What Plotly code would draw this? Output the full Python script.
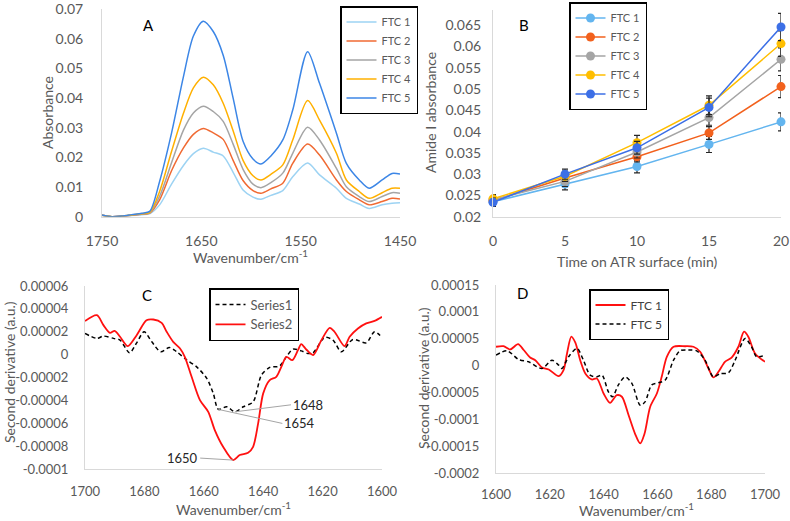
import plotly.graph_objects as go

# ---------------- Panel A data ----------------
wn_A = [1750, 1740, 1730, 1720, 1710, 1702, 1692, 1680, 1668, 1658, 1648, 1638, 1628, 1618, 1608,
        1598, 1590, 1580, 1568, 1558, 1543, 1531, 1514, 1504, 1491, 1481, 1468, 1458, 1450]
A_ftc1 = [0.0004, 0.0000, 0.0002, 0.0004, 0.0007, 0.0010, 0.0040, 0.0110, 0.0173, 0.0213, 0.0231, 0.0218,
          0.0205, 0.0150, 0.0090, 0.0066, 0.0059, 0.0072, 0.0088, 0.0135, 0.0181, 0.0141, 0.0096, 0.0062,
          0.0043, 0.0028, 0.0040, 0.0045, 0.0047]
A_ftc2 = [0.0005, 0.0000, 0.0002, 0.0005, 0.0008, 0.0012, 0.0057, 0.0155, 0.0232, 0.0278, 0.0298, 0.0283,
          0.0261, 0.0190, 0.0122, 0.0088, 0.0079, 0.0094, 0.0113, 0.0180, 0.0245, 0.0208, 0.0124, 0.0085,
          0.0057, 0.0040, 0.0051, 0.0062, 0.0060]
A_ftc3 = [0.0005, 0.0000, 0.0002, 0.0005, 0.0009, 0.0013, 0.0069, 0.0182, 0.0292, 0.0350, 0.0373, 0.0355,
          0.0322, 0.0245, 0.0160, 0.0110, 0.0098, 0.0115, 0.0147, 0.0214, 0.0302, 0.0259, 0.0163, 0.0101,
          0.0068, 0.0051, 0.0068, 0.0081, 0.0079]
A_ftc4 = [0.0005, 0.0000, 0.0002, 0.0006, 0.0010, 0.0014, 0.0085, 0.0220, 0.0349, 0.0435, 0.0471, 0.0445,
          0.0383, 0.0290, 0.0190, 0.0138, 0.0124, 0.0143, 0.0175, 0.0259, 0.0392, 0.0326, 0.0214, 0.0124,
          0.0085, 0.0062, 0.0081, 0.0096, 0.0096]
A_ftc5 = [0.0006, 0.0000, 0.0002, 0.0007, 0.0012, 0.0018, 0.0119, 0.0282, 0.0473, 0.0610, 0.0660, 0.0625,
          0.0545, 0.0400, 0.0255, 0.0195, 0.0178, 0.0205, 0.0259, 0.0360, 0.0557, 0.0450, 0.0282, 0.0180,
          0.0124, 0.0096, 0.0124, 0.0146, 0.0144]
A_xticks = [1750, 1650, 1550, 1450]
A_yticks = [0, 0.01, 0.02, 0.03, 0.04, 0.05, 0.06, 0.07]

# ---------------- Panel B data ----------------
time_B = [0, 5, 10, 15, 20]
B_ftc1 = [0.0235, 0.0277, 0.0318, 0.0370, 0.0423]
B_ftc2 = [0.0238, 0.0291, 0.0341, 0.0397, 0.0506]
B_ftc3 = [0.0240, 0.0283, 0.0352, 0.0433, 0.0570]
B_ftc4 = [0.0242, 0.0295, 0.0374, 0.0462, 0.0607]
B_ftc5 = [0.0234, 0.0300, 0.0362, 0.0457, 0.0646]
B_err1 = [0.0010, 0.0014, 0.0015, 0.0019, 0.0021]
B_err2 = [0.0010, 0.0012, 0.0012, 0.0015, 0.0026]
B_err3 = [0.0010, 0.0012, 0.0014, 0.0018, 0.0027]
B_err4 = [0.0010, 0.0012, 0.0017, 0.0022, 0.0030]
B_err5 = [0.0010, 0.0012, 0.0015, 0.0022, 0.0032]
B_yticks = [0.02, 0.025, 0.03, 0.035, 0.04, 0.045, 0.05, 0.055, 0.06, 0.065]
B_yticktext = ["0.02", "0.025", "0.03", "0.035", "0.04", "0.045", "0.05", "0.055", "0.06", "0.065"]

# ---------------- Panel C data ----------------
wn_C2 = [1700, 1696, 1693.8, 1691.6, 1690, 1688.2, 1685.6, 1682.6, 1679.3, 1677, 1674.2, 1672.5, 1670.3,
         1668, 1666.4, 1664.1, 1661.3, 1658.5, 1656.3, 1653.5, 1650.1, 1647.9, 1645.1, 1643.4, 1641.7,
         1640, 1637.8, 1635.6, 1633.9, 1632.2, 1630.2, 1628.3, 1627.2, 1625.5, 1623.2, 1620.4, 1617.6,
         1616, 1612.6, 1610.9, 1608.1, 1605.3, 1602.5, 1600]
C_series2 = [2.93e-5, 3.45e-5, 2.58e-5, 1.90e-5, 2.08e-5, 1.56e-5, 0.74e-5, 1.70e-5, 3.00e-5, 3.07e-5,
             2.78e-5, 2.00e-5, 1.12e-5, 0.54e-5, -0.19e-5, -1.94e-5, -3.98e-5, -5.00e-5, -6.60e-5, -8.06e-5,
             -9.22e-5, -8.78e-5, -8.58e-5, -8.06e-5, -6.01e-5, -3.39e-5, -2.23e-5, -1.94e-5, -1.07e-5,
             -0.19e-5, -0.48e-5, 0.39e-5, 0.92e-5, 0.45e-5, -0.04e-5, 1.27e-5, 2.34e-5, 2.00e-5, 0.74e-5,
             1.56e-5, 2.29e-5, 2.73e-5, 2.95e-5, 3.30e-5]
wn_C1 = [1700, 1696, 1693.8, 1690.4, 1688.2, 1685, 1682.6, 1680.1, 1677.5, 1674.5, 1671.6, 1669.1, 1665.7,
         1662.4, 1659, 1656.8, 1655.1, 1652.3, 1649.5, 1646.7, 1643.4, 1640.6, 1637.8, 1634.5, 1632.2, 1630,
         1627.2, 1625, 1623.2, 1619.3, 1616.5, 1613.7, 1609.8, 1605.3, 1602.5, 1600]
C_series1 = [1.85e-5, 1.42e-5, 1.62e-5, 1.42e-5, 1.27e-5, 0.16e-5, 1.03e-5, 2.00e-5, 1.12e-5, 0.25e-5,
             0.63e-5, 0.25e-5, -0.48e-5, -1.07e-5, -2.08e-5, -3.39e-5, -4.79e-5, -4.56e-5, -5.00e-5, -4.56e-5,
             -4.13e-5, -1.79e-5, -1.12e-5, -1.00e-5, -0.19e-5, 0.48e-5, 0.33e-5, 0.10e-5, 0.16e-5, 1.50e-5,
             1.27e-5, 0.25e-5, 1.33e-5, 1.03e-5, 2.00e-5, 1.50e-5]
C_yticks = [-0.0001, -0.00008, -0.00006, -0.00004, -0.00002, 0, 0.00002, 0.00004, 0.00006]
C_yticktext = ["-0.0001", "-0.00008", "-0.00006", "-0.00004", "-0.00002", "0", "0.00002", "0.00004", "0.00006"]
C_xticks = [1700, 1680, 1660, 1640, 1620, 1600]

# ---------------- Panel D data ----------------
wn_D1 = [1600, 1602.8, 1605.3, 1608.2, 1610.3, 1612.7, 1614.6, 1617.1, 1619.6, 1623.3, 1625.1, 1626.4, 1628,
         1629.5, 1631.3, 1633.2, 1635.6, 1637.5, 1640, 1642.4, 1644.9, 1646.8, 1649.3, 1651.7, 1653.6, 1655.2,
         1657.3, 1659.8, 1661.6, 1663.5, 1666, 1670.3, 1673.4, 1675.9, 1679, 1680.8, 1682.7, 1685.1, 1687.6,
         1690.1, 1692.2, 1693.8, 1696.3, 1700]
D_ftc1 = [3.5e-5, 3.6e-5, 3.0e-5, 4.0e-5, 2.9e-5, 1.5e-5, 1.0e-5, -0.35e-5, -0.73e-5, -1.97e-5, -0.85e-5, 2.26e-5,
          5.37e-5, 4.25e-5, 1.0e-5, -1.47e-5, -2.59e-5, -2.4e-5, -5.2e-5, -6.95e-5, -5.52e-5, -5.8e-5, -9.26e-5,
          -12.7e-5, -14.5e-5, -12.7e-5, -7.7e-5, -5.2e-5, -2.1e-5, 1.6e-5, 3.5e-5, 3.6e-5, 3.5e-5, 2.57e-5,
          -0.54e-5, -2.2e-5, -1.16e-5, 0.7e-5, 1.5e-5, 3.5e-5, 6.3e-5, 5.37e-5, 2.26e-5, 0.7e-5]
wn_D5 = [1600, 1604.1, 1608.4, 1612.1, 1617.1, 1620.8, 1623.3, 1624.5, 1627, 1630.1, 1632.5, 1635, 1637.5,
         1639.4, 1641.8, 1643.3, 1645.5, 1648, 1650.5, 1653.6, 1655.4, 1657.9, 1660.4, 1662.9, 1666, 1668.4,
         1671.5, 1674.6, 1677.7, 1680.8, 1683.3, 1686.4, 1688.9, 1692.6, 1695, 1696.9, 1700]
D_ftc5 = [1.95e-5, 2.75e-5, 1.14e-5, 0.7e-5, -0.54e-5, 1.0e-5, 0.08e-5, -0.54e-5, 1.64e-5, 3.2e-5, 1.0e-5,
          -1.78e-5, -2.1e-5, -1.78e-5, -4.9e-5, -5.8e-5, -3.6e-5, -2.1e-5, -3.3e-5, -7.4e-5, -6.76e-5, -3.6e-5,
          -3.2e-5, -2.7e-5, 1.0e-5, 2.75e-5, 2.9e-5, 2.75e-5, 1.0e-5, -2.1e-5, -1.5e-5, -1.35e-5, 1.0e-5,
          5.06e-5, 3.5e-5, 1.64e-5, 1.95e-5]
D_yticks = [-0.0002, -0.00015, -0.0001, -0.00005, 0, 0.00005, 0.0001, 0.00015]
D_yticktext = ["-0.0002", "-0.00015", "-0.0001", "-0.00005", "0", "0.00005", "0.0001", "0.00015"]
D_xticks = [1600, 1620, 1640, 1660, 1680, 1700]

FONT = "Lato"
GRAY = "#595959"
AXC = "#D9D9D9"
W, H = 790, 521


def px_x(p):
    return p / W


def px_y(p):
    return 1 - p / H


fig = go.Figure()

# Panel A
colA = ["#9DD3F3", "#F06A33", "#A5A5A5", "#FFB000", "#3C86E6"]
for name, ys, c in zip(["FTC 1", "FTC 2", "FTC 3", "FTC 4", "FTC 5"],
                       [A_ftc1, A_ftc2, A_ftc3, A_ftc4, A_ftc5], colA):
    fig.add_trace(go.Scatter(x=wn_A, y=ys, name=name, mode="lines",
                             line=dict(color=c, width=1.5, shape="spline", smoothing=0.8),
                             xaxis="x", yaxis="y", legend="legend"))

# Panel B
colB = ["#63B5EF", "#F2611D", "#A5A5A5", "#FFBE00", "#3C6FE6"]
for name, ys, er, c in zip(["FTC 1", "FTC 2", "FTC 3", "FTC 4", "FTC 5"],
                           [B_ftc1, B_ftc2, B_ftc3, B_ftc4, B_ftc5],
                           [B_err1, B_err2, B_err3, B_err4, B_err5], colB):
    fig.add_trace(go.Scatter(x=time_B, y=ys, name=name, mode="lines+markers",
                             line=dict(color=c, width=1.5), marker=dict(color=c, size=9),
                             error_y=dict(type="data", array=er, color="#262626", thickness=1.2, width=3),
                             cliponaxis=False, xaxis="x2", yaxis="y2", legend="legend2"))

# Panel C
fig.add_trace(go.Scatter(x=wn_C1, y=C_series1, name="Series1", mode="lines",
                         line=dict(color="black", width=1.5, dash="4px,3px", shape="spline", smoothing=0.8),
                         xaxis="x3", yaxis="y3", legend="legend3"))
fig.add_trace(go.Scatter(x=wn_C2, y=C_series2, name="Series2", mode="lines",
                         line=dict(color="#FF1010", width=1.8, shape="spline", smoothing=0.8),
                         xaxis="x3", yaxis="y3", legend="legend3"))

# Panel D
fig.add_trace(go.Scatter(x=wn_D1, y=D_ftc1, name="FTC 1", mode="lines",
                         line=dict(color="#FF1010", width=1.8, shape="spline", smoothing=0.8),
                         xaxis="x4", yaxis="y4", legend="legend4"))
fig.add_trace(go.Scatter(x=wn_D5, y=D_ftc5, name="FTC 5", mode="lines",
                         line=dict(color="black", width=1.5, dash="4px,3px", shape="spline", smoothing=0.8),
                         xaxis="x4", yaxis="y4", legend="legend4"))

tickfont14 = dict(family=FONT, size=14, color=GRAY)
tickfont13 = dict(family=FONT, size=13, color=GRAY)

common = dict(showgrid=False, zeroline=False, showline=True, linecolor=AXC, linewidth=1,
              ticks="", mirror=False, fixedrange=True, automargin=False)

fig.update_layout(
    template="none",
    width=W, height=H, margin=dict(l=0, r=0, t=0, b=0, autoexpand=False),
    paper_bgcolor="white", plot_bgcolor="white", showlegend=True,
    font=dict(family=FONT, color=GRAY),
    xaxis=dict(domain=[px_x(102), px_x(400)], range=[1750, 1450], tickvals=A_xticks,
               tickfont=tickfont14, anchor="y", ticklabelstandoff=11, **common),
    yaxis=dict(domain=[px_y(216.7), px_y(9.3)], range=[0, 0.07], tickvals=A_yticks,
               tickfont=tickfont14, anchor="x", ticklabelstandoff=15, **common),
    xaxis2=dict(domain=[px_x(493), px_x(781)], range=[0, 20], tickvals=time_B,
                tickfont=tickfont14, anchor="y2", ticklabelstandoff=11, **common),
    yaxis2=dict(domain=[px_y(216.7), px_y(10)], range=[0.02, 0.0686], tickvals=B_yticks,
                ticktext=B_yticktext, tickfont=tickfont14, anchor="x2", ticklabelstandoff=8, **common),
    xaxis3=dict(domain=[px_x(85), px_x(382)], range=[1700, 1600], tickvals=C_xticks,
                tickfont=tickfont13, anchor="y3", ticklabelstandoff=10, **common),
    yaxis3=dict(domain=[px_y(469), px_y(286)], range=[-0.0001, 0.00006], tickvals=C_yticks,
                ticktext=C_yticktext, tickfont=tickfont13, anchor="x3", ticklabelstandoff=13, **common),
    xaxis4=dict(domain=[px_x(496), px_x(765)], range=[1600, 1700], tickvals=D_xticks,
                tickfont=tickfont13, anchor="y4", ticklabelstandoff=9, **common),
    yaxis4=dict(domain=[px_y(473), px_y(285)], range=[-0.0002, 0.00015], tickvals=D_yticks,
                ticktext=D_yticktext, tickfont=tickfont13, anchor="x4", ticklabelstandoff=13, **common),
)

leg_common = dict(bgcolor="white", bordercolor="black", borderwidth=1.5, xanchor="left", yanchor="top",
                  tracegroupgap=0, itemwidth=30)
fig.update_layout(
    legend=dict(x=px_x(340), y=px_y(6), font=dict(family=FONT, size=11, color=GRAY), **leg_common),
    legend2=dict(x=px_x(569), y=px_y(2), font=dict(family=FONT, size=11, color=GRAY), **leg_common),
    legend3=dict(x=px_x(209), y=px_y(288), font=dict(family=FONT, size=13, color=GRAY), **leg_common),
    legend4=dict(x=px_x(589), y=px_y(289), font=dict(family=FONT, size=12, color="#404040"), **leg_common),
)

ann = []
# panel letters
for letter, xp, yp in [("A", 148, 25), ("B", 524, 25), ("C", 147, 295), ("D", 522, 293)]:
    ann.append(dict(text=letter, x=px_x(xp), y=px_y(yp), xref="paper", yref="paper", showarrow=False,
                    font=dict(family=FONT, size=15, color="black"), xanchor="center", yanchor="middle"))
# axis titles
titles = [
    ("Absorbance", 47, 113, -90),
    ("Wavenumber/cm<sup>-1</sup>", 250, 257, 0),
    ("Amide I absorbance", 430, 113, -90),
    ("Time on ATR surface (min)", 637, 261, 0),
    ("Second derivative (a.u.)", 10, 372, -90),
    ("Wavenumber/cm<sup>-1</sup>", 233, 508, 0),
    ("Second derivative (a.u.)", 423, 378, -90),
    ("Wavenumber/cm<sup>-1</sup>", 636, 509, 0),
]
for t, xp, yp, ang in titles:
    ann.append(dict(text=t, x=px_x(xp), y=px_y(yp), xref="paper", yref="paper", showarrow=False,
                    textangle=ang, font=dict(family=FONT, size=14, color=GRAY),
                    xanchor="center", yanchor="middle"))

# peak labels on panel C, pointing to data points
i48 = C_series1.index(min(C_series1))
i54 = wn_C1.index(1655.1)
i50 = C_series2.index(min(C_series2))
ann.append(dict(text="1648", x=wn_C1[i48], y=C_series1[i48], xref="x3", yref="y3", showarrow=True,
                arrowhead=0, arrowcolor="#A5A5A5", arrowwidth=1, ax=56, ay=-7, xanchor="left",
                font=dict(family=FONT, size=13, color="#262626")))
ann.append(dict(text="1654", x=wn_C1[i54], y=C_series1[i54], xref="x3", yref="y3", showarrow=True,
                arrowhead=0, arrowcolor="#A5A5A5", arrowwidth=1, ax=64, ay=14, xanchor="left",
                font=dict(family=FONT, size=13, color="#262626")))
ann.append(dict(text="1650", x=wn_C2[i50], y=C_series2[i50], xref="x3", yref="y3", showarrow=True,
                arrowhead=0, arrowcolor="#A5A5A5", arrowwidth=1, ax=-33, ay=-2, xanchor="right",
                font=dict(family=FONT, size=13, color="#262626")))
fig.update_layout(annotations=ann)

fig.write_html("out.html", config={"displayModeBar": False},
               post_script="document.body.style.margin='0px';document.body.style.padding='0px';")
